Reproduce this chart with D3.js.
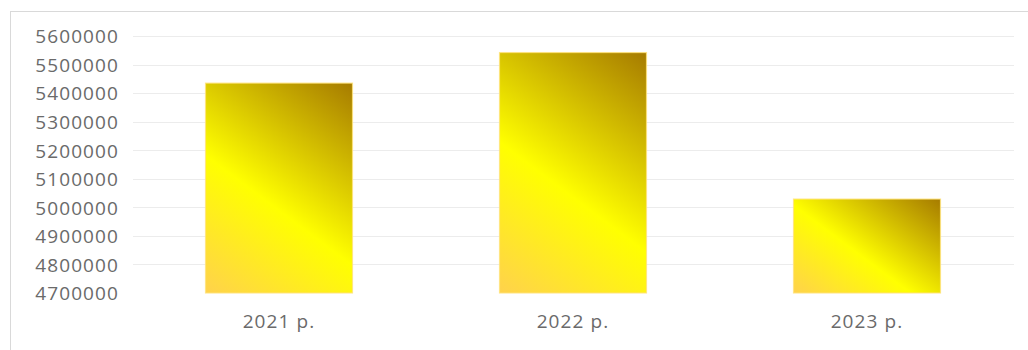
<!DOCTYPE html>
<html><head><meta charset="utf-8">
<script src="https://cdn.jsdelivr.net/npm/d3@7"></script>
<style>
html,body{margin:0;padding:0;background:#fff;}
svg{display:block;}
text{font-family:"Open Sans","Noto Sans",sans-serif;}
</style></head>
<body>
<svg id="chart" width="1028" height="350"></svg>
<script>
const categories = ["2021 р.", "2022 р.", "2023 р."];
const values = [5435000, 5542000, 5029000];
const yTicks = [4700000, 4800000, 4900000, 5000000, 5100000, 5200000, 5300000, 5400000, 5500000, 5600000];

const svg = d3.select("#chart");
// chart frame
svg.append("rect").attr("x", 10.5).attr("y", 11.5).attr("width", 1040).attr("height", 400)
  .attr("fill", "#fff").attr("stroke", "#d9d9d9").attr("stroke-width", 1);

const x = d3.scaleBand().domain(categories).range([132, 1014]).paddingInner(0.5).paddingOuter(0.25);
const y = d3.scaleLinear().domain([4700000, 5600000]).range([293, 36]);

// gridlines
const yAxis = d3.axisLeft(y).tickValues(yTicks).tickFormat(d3.format("d")).tickSize(0).tickPadding(14);
const gY = svg.append("g").attr("transform", "translate(133,0)").call(yAxis);
gY.select(".domain").remove();
gY.selectAll("text").attr("fill", "#6a6a6a").style("font-size", "19px").style("letter-spacing", "1.1px")
  .attr("dy", "0.36em");
svg.append("g").selectAll("line").data(yTicks.filter(t => t !== 4700000)).join("line")
  .attr("x1", 133).attr("x2", 1014)
  .attr("y1", d => Math.round(y(d)) + 0.5).attr("y2", d => Math.round(y(d)) + 0.5)
  .attr("stroke", "#ececec").attr("stroke-width", 1);

// gradients per bar
const defs = svg.append("defs");
const dx = 0.6, dy = -0.8;
categories.forEach((c, i) => {
  const bx = x(c), bw = x.bandwidth(), top = y(values[i]), bot = y(4700000), bh = bot - top;
  const L = dx * bw + (-dy) * bh;
  const g = defs.append("linearGradient").attr("id", "grad" + i)
    .attr("gradientUnits", "userSpaceOnUse")
    .attr("x1", bx).attr("y1", bot).attr("x2", bx + dx * L).attr("y2", bot + dy * L);
  g.append("stop").attr("offset", 0).attr("stop-color", "#FFD24C");
  g.append("stop").attr("offset", 0.43).attr("stop-color", "#FFFF00");
  g.append("stop").attr("offset", 1).attr("stop-color", "#A67B00");
});

svg.append("g").selectAll("rect").data(values).join("rect")
  .attr("x", (d, i) => x(categories[i]))
  .attr("y", d => y(d))
  .attr("width", x.bandwidth())
  .attr("height", d => y(4700000) - y(d))
  .attr("fill", (d, i) => `url(#grad${i})`)
  .attr("stroke", "#FFE27A").attr("stroke-opacity", 0.8).attr("stroke-width", 1.2);

// x axis labels
const xAxis = d3.axisBottom(x).tickSize(0).tickPadding(0);
const gX = svg.append("g").attr("transform", "translate(0,293)").call(xAxis);
gX.select(".domain").remove();
gX.selectAll("text").attr("fill", "#6a6a6a").style("font-size", "19px").style("letter-spacing", "1.1px")
  .attr("y", 35).attr("dy", 0);
</script>
</body></html>
